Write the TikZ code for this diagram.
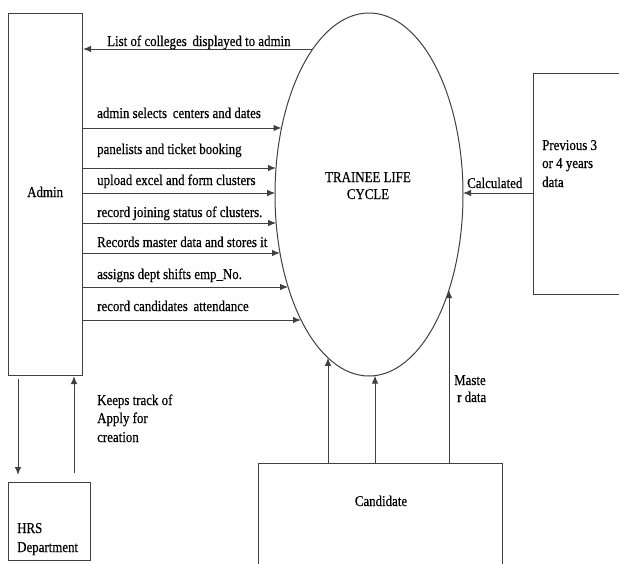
\documentclass[tikz,border=0pt]{standalone}
\usepackage{fontspec}
\setmainfont{Liberation Serif}[FakeStretch=0.86,FakeBold=0.4]
\usetikzlibrary{shapes.geometric,arrows.meta}
\begin{document}
\begin{tikzpicture}[x=1pt,y=-1pt,
  line/.style={draw=black!75, line width=1pt},
  flow/.style={line, -{Latex[length=8pt,width=6.5pt]}},
  box/.style={line, rectangle, anchor=north west, inner sep=0pt},
  lbl/.style={inner sep=0pt, anchor=base west, font=\fontsize{15}{18}\selectfont},
  mlbl/.style={lbl, align=left}]
\useasboundingbox (0,0) rectangle (619,563);
\clip (0,0) rectangle (619,563);
% boxes
\node[box, minimum width=74pt, minimum height=362pt] (admin) at (8,13) {};
\node[box, minimum width=82pt, minimum height=78pt] (hrs) at (8,482) {};
\node[box, minimum width=120pt, minimum height=221pt] (prev) at (533,73) {};
\node[box, minimum width=244pt, minimum height=130pt] (cand) at (258,463) {};
\node[line, ellipse, minimum width=188pt, minimum height=363pt, inner sep=0pt] (tlc) at (369,194.5) {};
% texts in boxes
\node[lbl] (admintxt) at (27,197) {Admin};
\node[lbl] (hrstxt1) at (17,533) {HRS};
\node[lbl] (hrstxt2) at (17,552) {Department};
\node[lbl] (prevtxt1) at (542,150) {Previous 3};
\node[lbl] (prevtxt2) at (542,168) {or 4 years};
\node[lbl] (prevtxt3) at (542,187) {data};
\node[lbl, anchor=base] (candtxt) at (381,506) {Candidate};
\node[lbl, anchor=base] (tlctxt1) at (368,182) {TRAINEE LIFE};
\node[lbl, anchor=base] (tlctxt2) at (368,199) {CYCLE};
% points on the ellipse
\coordinate (e0) at (312.8,49);
\coordinate (e1) at (281.5,128);
\coordinate (e2) at (276,168);
\coordinate (e3) at (275.2,193);
\coordinate (e4) at (276.2,223);
\coordinate (e5) at (280,253);
\coordinate (e6) at (288.1,287);
\coordinate (e7) at (301,320);
\coordinate (ec) at (463,193);
\coordinate (c1) at (328,357.8);
\coordinate (c2) at (375,375.6);
\coordinate (c3) at (449,290);
% admin flows
\draw[flow] (e0) -- (admin.east |- e0);
\node[lbl] (l0) at (107,46) {List of colleges\, displayed to admin};
\draw[flow] (admin.east |- e1) -- (e1);
\node[lbl] (l1) at (97,118) {admin selects\, centers and dates};
\draw[flow] (admin.east |- e2) -- (e2);
\node[lbl] (l2) at (97,154) {panelists and ticket booking};
\draw[flow] (admin.east |- e3) -- (e3);
\node[lbl] (l3) at (97,185) {upload excel and form clusters};
\draw[flow] (admin.east |- e4) -- (e4);
\node[lbl] (l4) at (97,217) {record joining status of clusters.};
\draw[flow] (admin.east |- e5) -- (e5);
\node[lbl] (l5) at (97,247) {Records master data and stores it};
\draw[flow] (admin.east |- e6) -- (e6);
\node[lbl] (l6) at (97,279) {assigns dept shifts emp\_No.};
\draw[flow] (admin.east |- e7) -- (e7);
\node[lbl] (l7) at (97,311) {record candidates\, attendance};
% previous data
\draw[flow] (prev.west |- ec) -- (ec);
\node[lbl] (lc) at (467,188) {Calculated};
% candidate flows
\draw[flow] (cand.north -| c1) -- (c1);
\draw[flow] (cand.north -| c2) -- (c2);
\draw[flow] (cand.north -| c3) -- (c3);
\node[lbl] (lm1) at (454,385) {Maste};
\node[lbl] (lm2) at (457,402) {r data};
% admin <-> HRS
\coordinate (d1) at (18,0);
\coordinate (u1) at (74,0);
\draw[flow, shorten <=3pt, shorten >=7pt] (admin.south -| d1) -- (hrs.north -| d1);
\draw[flow, shorten <=9pt] (hrs.north -| u1) -- (admin.south -| u1);
\node[lbl] (lk1) at (97,405) {Keeps track of};
\node[lbl] (lk2) at (97,423) {Apply for};
\node[lbl] (lk3) at (97,442) {creation};
\end{tikzpicture}
\end{document}
